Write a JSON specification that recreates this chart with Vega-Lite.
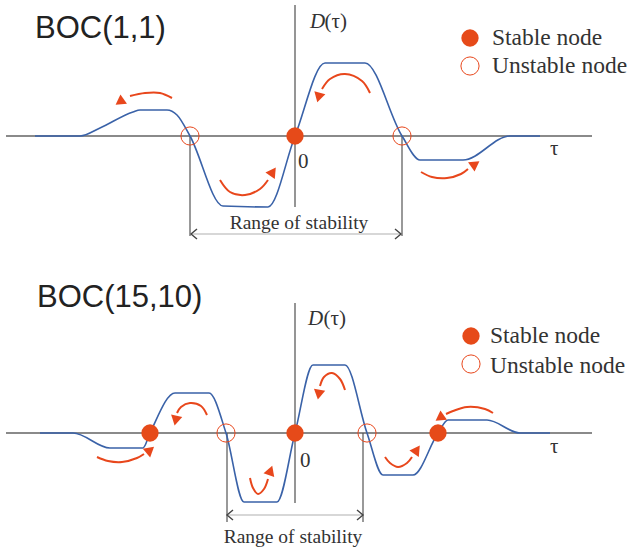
{
  "$schema": "https://vega.github.io/schema/vega-lite/v6.json",
  "padding": 0,
  "spacing": 0,
  "background": "white",
  "config": {"view": {"stroke": null}},
  "datasets": {
    "curve": [
      {"panel":1,"t":-2.60,"d":0},{"panel":1,"t":-2.15,"d":0},{"panel":1,"t":-1.95,"d":0.08},{"panel":1,"t":-1.62,"d":0.24},{"panel":1,"t":-1.55,"d":0.26},{"panel":1,"t":-1.28,"d":0.26},{"panel":1,"t":-1.18,"d":0.21},{"panel":1,"t":-1.05,"d":0},{"panel":1,"t":-0.72,"d":-0.70},{"panel":1,"t":-0.27,"d":-0.71},{"panel":1,"t":0,"d":0},{"panel":1,"t":0.30,"d":0.73},{"panel":1,"t":0.70,"d":0.73},{"panel":1,"t":1.07,"d":0},{"panel":1,"t":1.25,"d":-0.24},{"panel":1,"t":1.68,"d":-0.24},{"panel":1,"t":2.15,"d":0},{"panel":1,"t":2.45,"d":0},
      {"panel":2,"t":-2.55,"d":0},{"panel":2,"t":-2.22,"d":0},{"panel":2,"t":-1.85,"d":-0.15},{"panel":2,"t":-1.52,"d":-0.15},{"panel":2,"t":-1.45,"d":0},{"panel":2,"t":-1.20,"d":0.40},{"panel":2,"t":-0.86,"d":0.40},{"panel":2,"t":-0.69,"d":0},{"panel":2,"t":-0.51,"d":-0.69},{"panel":2,"t":-0.18,"d":-0.69},{"panel":2,"t":0,"d":0},{"panel":2,"t":0.18,"d":0.68},{"panel":2,"t":0.50,"d":0.68},{"panel":2,"t":0.72,"d":0},{"panel":2,"t":0.88,"d":-0.42},{"panel":2,"t":1.18,"d":-0.42},{"panel":2,"t":1.43,"d":0},{"panel":2,"t":1.53,"d":0.13},{"panel":2,"t":1.92,"d":0.13},{"panel":2,"t":2.25,"d":0},{"panel":2,"t":2.55,"d":0}
    ],
    "axes": [
      {"panel":1,"id":"h","t":-2.89,"d":0},{"panel":1,"id":"h","t":2.97,"d":0},
      {"panel":1,"id":"v","t":0,"d":1.31},{"panel":1,"id":"v","t":0,"d":-0.71},
      {"panel":2,"id":"h","t":-2.89,"d":0},{"panel":2,"id":"h","t":2.97,"d":0},
      {"panel":2,"id":"v","t":0,"d":1.30},{"panel":2,"id":"v","t":0,"d":-0.70}
    ],
    "rangeV": [
      {"panel":1,"id":"l","t":-1.05,"d":0},{"panel":1,"id":"l","t":-1.05,"d":-1.0},
      {"panel":1,"id":"r","t":1.07,"d":0},{"panel":1,"id":"r","t":1.07,"d":-1.0},
      {"panel":2,"id":"l","t":-0.68,"d":0},{"panel":2,"id":"l","t":-0.68,"d":-0.89},
      {"panel":2,"id":"r","t":0.68,"d":0},{"panel":2,"id":"r","t":0.68,"d":-0.89}
    ],
    "rangeH": [
      {"panel":1,"t":-1.05,"d":-0.98},{"panel":1,"t":1.07,"d":-0.98},
      {"panel":2,"t":-0.68,"d":-0.82},{"panel":2,"t":0.68,"d":-0.82}
    ],
    "chevrons": [
      {"panel":1,"t":-1.01,"d":-0.98,"angle":180},{"panel":1,"t":1.03,"d":-0.98,"angle":0},
      {"panel":2,"t":-0.65,"d":-0.82,"angle":180},{"panel":2,"t":0.65,"d":-0.82,"angle":0}
    ],
    "arrows": [
      {"panel":1,"id":"a1","t":-1.23,"d":0.38},{"panel":1,"id":"a1","t":-1.35,"d":0.43},{"panel":1,"id":"a1","t":-1.50,"d":0.43},{"panel":1,"id":"a1","t":-1.65,"d":0.40},
      {"panel":1,"id":"a2","t":-0.75,"d":-0.44},{"panel":1,"id":"a2","t":-0.65,"d":-0.56},{"panel":1,"id":"a2","t":-0.50,"d":-0.59},{"panel":1,"id":"a2","t":-0.35,"d":-0.53},{"panel":1,"id":"a2","t":-0.27,"d":-0.44},
      {"panel":1,"id":"a3","t":0.75,"d":0.43},{"panel":1,"id":"a3","t":0.67,"d":0.55},{"panel":1,"id":"a3","t":0.50,"d":0.62},{"panel":1,"id":"a3","t":0.35,"d":0.57},{"panel":1,"id":"a3","t":0.27,"d":0.47},
      {"panel":1,"id":"a4","t":1.26,"d":-0.36},{"panel":1,"id":"a4","t":1.37,"d":-0.41},{"panel":1,"id":"a4","t":1.52,"d":-0.42},{"panel":1,"id":"a4","t":1.66,"d":-0.38},{"panel":1,"id":"a4","t":1.73,"d":-0.33},
      {"panel":2,"id":"b1","t":-1.98,"d":-0.24},{"panel":2,"id":"b1","t":-1.87,"d":-0.28},{"panel":2,"id":"b1","t":-1.73,"d":-0.29},{"panel":2,"id":"b1","t":-1.58,"d":-0.25},{"panel":2,"id":"b1","t":-1.51,"d":-0.21},
      {"panel":2,"id":"b2","t":-0.88,"d":0.18},{"panel":2,"id":"b2","t":-0.94,"d":0.27},{"panel":2,"id":"b2","t":-1.05,"d":0.30},{"panel":2,"id":"b2","t":-1.14,"d":0.26},{"panel":2,"id":"b2","t":-1.18,"d":0.20},
      {"panel":2,"id":"b3","t":-0.45,"d":-0.45},{"panel":2,"id":"b3","t":-0.42,"d":-0.55},{"panel":2,"id":"b3","t":-0.37,"d":-0.61},{"panel":2,"id":"b3","t":-0.31,"d":-0.56},{"panel":2,"id":"b3","t":-0.27,"d":-0.46},
      {"panel":2,"id":"b4","t":0.50,"d":0.43},{"panel":2,"id":"b4","t":0.45,"d":0.54},{"panel":2,"id":"b4","t":0.37,"d":0.60},{"panel":2,"id":"b4","t":0.29,"d":0.56},{"panel":2,"id":"b4","t":0.25,"d":0.47},
      {"panel":2,"id":"b5","t":0.90,"d":-0.24},{"panel":2,"id":"b5","t":0.95,"d":-0.30},{"panel":2,"id":"b5","t":1.03,"d":-0.34},{"panel":2,"id":"b5","t":1.12,"d":-0.30},{"panel":2,"id":"b5","t":1.17,"d":-0.24},
      {"panel":2,"id":"b6","t":1.98,"d":0.20},{"panel":2,"id":"b6","t":1.90,"d":0.24},{"panel":2,"id":"b6","t":1.72,"d":0.26},{"panel":2,"id":"b6","t":1.58,"d":0.22},{"panel":2,"id":"b6","t":1.51,"d":0.19}
    ],
    "heads": [
      {"panel":1,"t":-1.74,"d":0.35,"angle":235},
      {"panel":1,"t":-0.23,"d":-0.37,"angle":35},
      {"panel":1,"t":0.24,"d":0.40,"angle":195},
      {"panel":1,"t":1.79,"d":-0.29,"angle":55},
      {"panel":2,"t":-1.46,"d":-0.18,"angle":50},
      {"panel":2,"t":-1.19,"d":0.14,"angle":192},
      {"panel":2,"t":-0.25,"d":-0.39,"angle":20},
      {"panel":2,"t":0.24,"d":0.40,"angle":190},
      {"panel":2,"t":1.21,"d":-0.18,"angle":35},
      {"panel":2,"t":1.46,"d":0.16,"angle":235}
    ],
    "nodes": [
      {"panel":1,"t":0,"d":0,"stable":true},{"panel":1,"t":1.75,"d":0.98,"stable":true},
      {"panel":1,"t":-1.05,"d":0,"stable":false},{"panel":1,"t":1.07,"d":0,"stable":false},{"panel":1,"t":1.75,"d":0.70,"stable":false},
      {"panel":2,"t":-1.45,"d":0,"stable":true},{"panel":2,"t":0,"d":0,"stable":true},{"panel":2,"t":1.43,"d":0,"stable":true},{"panel":2,"t":1.76,"d":0.97,"stable":true},
      {"panel":2,"t":-0.69,"d":0,"stable":false},{"panel":2,"t":0.72,"d":0,"stable":false},{"panel":2,"t":1.76,"d":0.69,"stable":false}
    ],
    "labels": [
      {"panel":1,"kind":"title","t":-2.60,"d":0.98,"text":"BOC(1,1)"},
      {"panel":1,"kind":"italic","t":0.15,"d":1.08,"text":"D"},
      {"panel":1,"kind":"serif","t":0.295,"d":1.08,"text":"(τ)"},
      {"panel":1,"kind":"serif","t":0.03,"d":-0.32,"text":"0"},
      {"panel":1,"kind":"serif","t":2.55,"d":-0.19,"text":"τ"},
      {"panel":1,"kind":"legend","t":1.97,"d":0.91,"text":"Stable node"},
      {"panel":1,"kind":"legend","t":1.97,"d":0.63,"text":"Unstable node"},
      {"panel":1,"kind":"range","t":0.04,"d":-0.93,"text":"Range of stability"},
      {"panel":2,"kind":"title","t":-2.58,"d":1.26,"text":"BOC(15,10)"},
      {"panel":2,"kind":"italic","t":0.13,"d":1.08,"text":"D"},
      {"panel":2,"kind":"serif","t":0.285,"d":1.08,"text":"(τ)"},
      {"panel":2,"kind":"serif","t":0.05,"d":-0.34,"text":"0"},
      {"panel":2,"kind":"serif","t":2.55,"d":-0.20,"text":"τ"},
      {"panel":2,"kind":"legend","t":1.95,"d":0.90,"text":"Stable node"},
      {"panel":2,"kind":"legend","t":1.95,"d":0.60,"text":"Unstable node"},
      {"panel":2,"kind":"range","t":-0.02,"d":-1.10,"text":"Range of stability"}
    ]
  },
  "vconcat": [
    {
      "width": 629, "height": 270,
      "encoding": {
        "x": {"field":"t","type":"quantitative","scale":{"domain":[-2.95,3.34],"nice":false,"zero":false},"axis":null},
        "y": {"field":"d","type":"quantitative","scale":{"domain":[-1.34,1.36],"nice":false,"zero":false},"axis":null}
      },
      "layer": [
        {"data":{"name":"axes"},"transform":[{"filter":"datum.panel == 1"}],"mark":{"type":"line","color":"#8a8a8a","strokeWidth":1.8,"clip":true},"encoding":{"detail":{"field":"id"},"order":{"value":null}}},
        {"data":{"name":"rangeV"},"transform":[{"filter":"datum.panel == 1"}],"mark":{"type":"line","color":"#555555","strokeWidth":1.2,"clip":true},"encoding":{"detail":{"field":"id"},"order":{"value":null}}},
        {"data":{"name":"rangeH"},"transform":[{"filter":"datum.panel == 1"}],"mark":{"type":"line","color":"#b0b0b0","strokeWidth":1.2,"clip":true},"encoding":{}},
        {"data":{"name":"chevrons"},"transform":[{"filter":"datum.panel == 1"}],"mark":{"type":"point","shape":"M-0.6,-1L0.6,0L-0.6,1","filled":false,"stroke":"#444444","strokeWidth":1.4,"size":100,"opacity":1,"clip":true},"encoding":{"angle":{"field":"angle","type":"quantitative","scale":null}}},
        {"data":{"name":"curve"},"transform":[{"filter":"datum.panel == 1"}],"mark":{"type":"line","color":"#3a62a8","strokeWidth":1.6,"interpolate":"monotone","clip":true},"encoding":{}},
        {"data":{"name":"arrows"},"transform":[{"filter":"datum.panel == 1"}],"mark":{"type":"line","color":"#e8471c","strokeWidth":2,"interpolate":"catmull-rom","clip":true},"encoding":{"detail":{"field":"id"},"order":{"value":null}}},
        {"data":{"name":"heads"},"transform":[{"filter":"datum.panel == 1"}],"mark":{"type":"point","shape":"triangle","filled":true,"color":"#e8471c","size":130,"opacity":1,"clip":true},"encoding":{"angle":{"field":"angle","type":"quantitative","scale":null}}},
        {"data":{"name":"nodes"},"transform":[{"filter":"datum.panel == 1 && datum.stable"}],"mark":{"type":"point","shape":"circle","filled":true,"color":"#e64a19","size":300,"opacity":1,"clip":true}},
        {"data":{"name":"nodes"},"transform":[{"filter":"datum.panel == 1 && !datum.stable"}],"mark":{"type":"point","shape":"circle","filled":false,"color":"#e8471c","strokeWidth":1,"size":330,"opacity":1,"clip":true}},
        {"data":{"name":"labels"},"transform":[{"filter":"datum.panel == 1 && datum.kind == 'title'"}],"mark":{"type":"text","font":"Liberation Sans","fontSize":31,"align":"left","baseline":"alphabetic","color":"#222222","clip":true},"encoding":{"text":{"field":"text"}}},
        {"data":{"name":"labels"},"transform":[{"filter":"datum.panel == 1 && datum.kind == 'italic'"}],"mark":{"type":"text","font":"Liberation Serif","fontStyle":"italic","fontSize":21,"align":"left","baseline":"alphabetic","color":"#333333","clip":true},"encoding":{"text":{"field":"text"}}},
        {"data":{"name":"labels"},"transform":[{"filter":"datum.panel == 1 && datum.kind == 'serif'"}],"mark":{"type":"text","font":"Liberation Serif","fontSize":21,"align":"left","baseline":"alphabetic","color":"#333333","clip":true},"encoding":{"text":{"field":"text"}}},
        {"data":{"name":"labels"},"transform":[{"filter":"datum.panel == 1 && datum.kind == 'legend'"}],"mark":{"type":"text","font":"Liberation Serif","fontSize":23.5,"align":"left","baseline":"alphabetic","color":"#333333","clip":true},"encoding":{"text":{"field":"text"}}},
        {"data":{"name":"labels"},"transform":[{"filter":"datum.panel == 1 && datum.kind == 'range'"}],"mark":{"type":"text","font":"Liberation Serif","fontSize":19.5,"align":"center","baseline":"alphabetic","color":"#333333","clip":true},"encoding":{"text":{"field":"text"}}}
      ]
    },
    {
      "width": 629, "height": 279,
      "encoding": {
        "x": {"field":"t","type":"quantitative","scale":{"domain":[-2.95,3.34],"nice":false,"zero":false},"axis":null},
        "y": {"field":"d","type":"quantitative","scale":{"domain":[-1.16,1.63],"nice":false,"zero":false},"axis":null}
      },
      "layer": [
        {"data":{"name":"axes"},"transform":[{"filter":"datum.panel == 2"}],"mark":{"type":"line","color":"#8a8a8a","strokeWidth":1.8,"clip":true},"encoding":{"detail":{"field":"id"},"order":{"value":null}}},
        {"data":{"name":"rangeV"},"transform":[{"filter":"datum.panel == 2"}],"mark":{"type":"line","color":"#555555","strokeWidth":1.2,"clip":true},"encoding":{"detail":{"field":"id"},"order":{"value":null}}},
        {"data":{"name":"rangeH"},"transform":[{"filter":"datum.panel == 2"}],"mark":{"type":"line","color":"#b0b0b0","strokeWidth":1.2,"clip":true},"encoding":{}},
        {"data":{"name":"chevrons"},"transform":[{"filter":"datum.panel == 2"}],"mark":{"type":"point","shape":"M-0.6,-1L0.6,0L-0.6,1","filled":false,"stroke":"#444444","strokeWidth":1.4,"size":100,"opacity":1,"clip":true},"encoding":{"angle":{"field":"angle","type":"quantitative","scale":null}}},
        {"data":{"name":"curve"},"transform":[{"filter":"datum.panel == 2"}],"mark":{"type":"line","color":"#3a62a8","strokeWidth":1.6,"interpolate":"monotone","clip":true},"encoding":{}},
        {"data":{"name":"arrows"},"transform":[{"filter":"datum.panel == 2"}],"mark":{"type":"line","color":"#e8471c","strokeWidth":2,"interpolate":"catmull-rom","clip":true},"encoding":{"detail":{"field":"id"},"order":{"value":null}}},
        {"data":{"name":"heads"},"transform":[{"filter":"datum.panel == 2"}],"mark":{"type":"point","shape":"triangle","filled":true,"color":"#e8471c","size":130,"opacity":1,"clip":true},"encoding":{"angle":{"field":"angle","type":"quantitative","scale":null}}},
        {"data":{"name":"nodes"},"transform":[{"filter":"datum.panel == 2 && datum.stable"}],"mark":{"type":"point","shape":"circle","filled":true,"color":"#e64a19","size":300,"opacity":1,"clip":true}},
        {"data":{"name":"nodes"},"transform":[{"filter":"datum.panel == 2 && !datum.stable"}],"mark":{"type":"point","shape":"circle","filled":false,"color":"#e8471c","strokeWidth":1,"size":330,"opacity":1,"clip":true}},
        {"data":{"name":"labels"},"transform":[{"filter":"datum.panel == 2 && datum.kind == 'title'"}],"mark":{"type":"text","font":"Liberation Sans","fontSize":31,"align":"left","baseline":"alphabetic","color":"#222222","clip":true},"encoding":{"text":{"field":"text"}}},
        {"data":{"name":"labels"},"transform":[{"filter":"datum.panel == 2 && datum.kind == 'italic'"}],"mark":{"type":"text","font":"Liberation Serif","fontStyle":"italic","fontSize":21,"align":"left","baseline":"alphabetic","color":"#333333","clip":true},"encoding":{"text":{"field":"text"}}},
        {"data":{"name":"labels"},"transform":[{"filter":"datum.panel == 2 && datum.kind == 'serif'"}],"mark":{"type":"text","font":"Liberation Serif","fontSize":21,"align":"left","baseline":"alphabetic","color":"#333333","clip":true},"encoding":{"text":{"field":"text"}}},
        {"data":{"name":"labels"},"transform":[{"filter":"datum.panel == 2 && datum.kind == 'legend'"}],"mark":{"type":"text","font":"Liberation Serif","fontSize":23.5,"align":"left","baseline":"alphabetic","color":"#333333","clip":true},"encoding":{"text":{"field":"text"}}},
        {"data":{"name":"labels"},"transform":[{"filter":"datum.panel == 2 && datum.kind == 'range'"}],"mark":{"type":"text","font":"Liberation Serif","fontSize":19.5,"align":"center","baseline":"alphabetic","color":"#333333","clip":true},"encoding":{"text":{"field":"text"}}}
      ]
    }
  ]
}
